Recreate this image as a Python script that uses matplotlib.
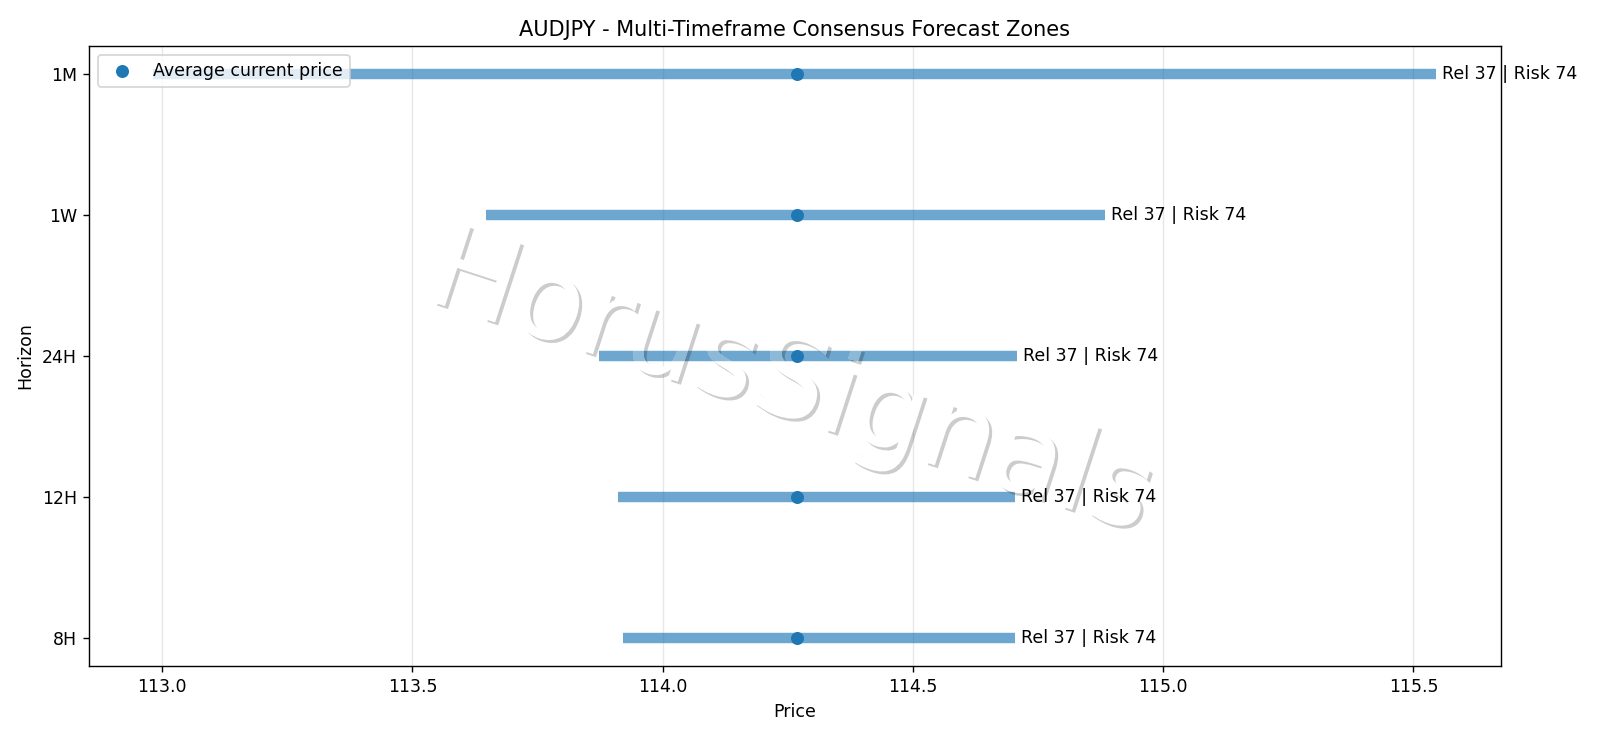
import matplotlib
matplotlib.use("Agg")
import matplotlib.pyplot as plt
from matplotlib.textpath import TextPath
from matplotlib.font_manager import FontProperties
from matplotlib.patches import PathPatch
from matplotlib.transforms import Affine2D

# === Consensus zones per horizon (bottom to top) ===
horizons = ["8H", "12H", "24H", "1W", "1M"]
zone_low = [113.921, 113.91, 113.872, 113.648, 112.982]
zone_high = [114.703, 114.704, 114.708, 114.884, 115.546]
current_price = [114.269, 114.269, 114.269, 114.269, 114.269]
reliability = [37, 37, 37, 37, 37]
risk = [74, 74, 74, 74, 74]

DPI = 125
fig = plt.figure(figsize=(1600 / DPI, 738 / DPI), dpi=DPI)
ax = fig.add_axes([0.0556, 0.0976, 0.8823, 0.8401])

y_pos = list(range(len(horizons)))
ax.hlines(y_pos, zone_low, zone_high, color="tab:blue", alpha=0.65, linewidth=6, zorder=2)
ax.scatter(current_price, y_pos, color="tab:blue", s=42, zorder=6, label="Average current price")

for y, hi, rel, rk in zip(y_pos, zone_high, reliability, risk):
    ax.text(hi + 0.012, y, f"Rel {rel} | Risk {rk}", va="center", ha="left", fontsize=10, zorder=7)

ax.set_yticks(y_pos)
ax.set_yticklabels(horizons)
ax.set_xlabel("Price")
ax.set_ylabel("Horizon")
ax.set_title("AUDJPY - Multi-Timeframe Consensus Forecast Zones")
ax.grid(True, axis="x", alpha=0.3)
leg = ax.legend(loc="upper left")
leg.set_zorder(10)

# === Watermark: white letters with a soft dark shadow ===
wm_path = TextPath((0, 0), "HorusSignals", size=66.5, prop=FontProperties(family="DejaVu Sans"))
ext = wm_path.get_extents()
cx, cy = (ext.x0 + ext.x1) / 2, (ext.y0 + ext.y1) / 2
base = Affine2D().translate(-cx, -cy).rotate_deg(-18).scale(1 / 72)
wx, wy = 794 / DPI, (738 - 386) / DPI
shadow_tr = base + Affine2D().translate(wx + 3 / DPI, wy - 3 / DPI) + fig.dpi_scale_trans
text_tr = base + Affine2D().translate(wx, wy) + fig.dpi_scale_trans

shadow = PathPatch(wm_path, transform=shadow_tr, facecolor="black", edgecolor="none", alpha=0.2, zorder=3)
letters = PathPatch(wm_path, transform=text_tr, facecolor="white", edgecolor="none", zorder=4)
ax.add_artist(shadow)
ax.add_artist(letters)

# bars seen through the semi-transparent letters
lit = ax.hlines(y_pos, zone_low, zone_high, color="tab:blue", alpha=0.51, linewidth=6, zorder=5)
lit.set_clip_path(letters)

fig.savefig("out.png", dpi=DPI)
